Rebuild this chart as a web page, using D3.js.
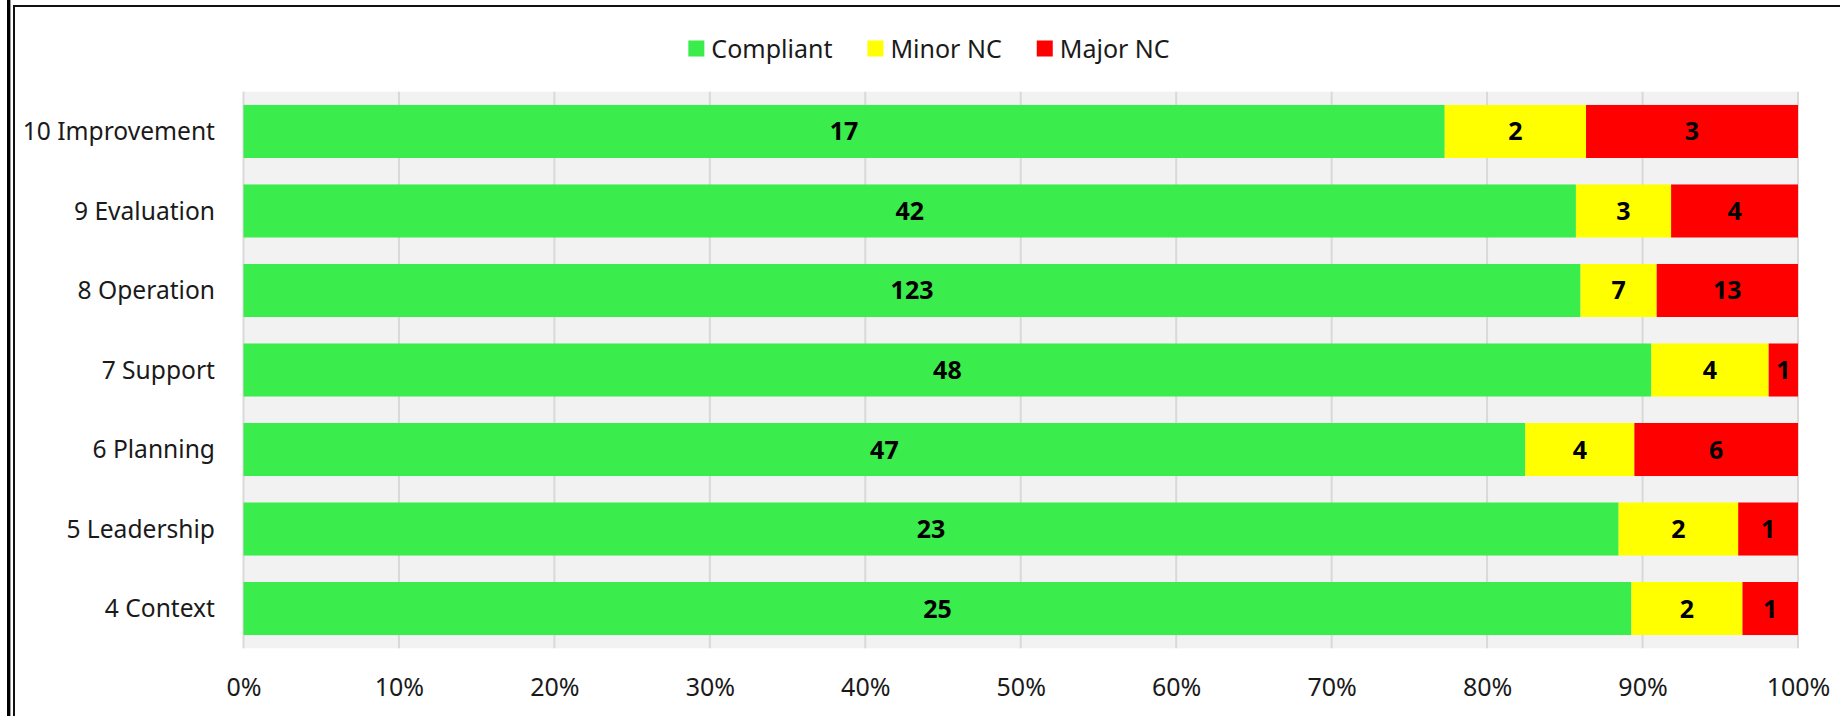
<!DOCTYPE html>
<html>
<head>
<meta charset="utf-8">
<script src="https://cdn.jsdelivr.net/npm/d3@7"></script>
<style>
  html, body { margin: 0; padding: 0; background: #fff; }
  svg { display: block; }
  text { font-family: "Noto Sans", "Open Sans", sans-serif; }
</style>
</head>
<body>
<svg id="chart" width="1840" height="716"></svg>
<script>
const categories = ["10 Improvement", "9 Evaluation", "8 Operation", "7 Support", "6 Planning", "5 Leadership", "4 Context"];
const seriesNames = ["Compliant", "Minor NC", "Major NC"];
const compliant = [17, 42, 123, 48, 47, 23, 25];
const minorNC  = [2, 3, 7, 4, 4, 2, 2];
const majorNC  = [3, 4, 13, 1, 6, 1, 1];
const tickValues = [0, 0.1, 0.2, 0.3, 0.4, 0.5, 0.6, 0.7, 0.8, 0.9, 1.0];
const colors = ["#3aec4c", "#ffff00", "#ff0000"];

const W = 1840, H = 716;
const svg = d3.select("#chart");

// borders
svg.append("rect").attr("x", 7).attr("y", 0).attr("width", 3.4).attr("height", H).attr("fill", "#000");
svg.append("line").attr("x1", 14).attr("x2", 14).attr("y1", 5).attr("y2", H).attr("stroke", "#111").attr("stroke-width", 2);
svg.append("line").attr("x1", 13).attr("x2", W).attr("y1", 6).attr("y2", 6).attr("stroke", "#111").attr("stroke-width", 2);

const plot = { left: 243.5, right: 1798, top: 91.7, bottom: 648.3 };

const x = d3.scaleLinear().domain([0, 1]).range([plot.left, plot.right]);
const y = d3.scaleBand().domain(categories).range([plot.top, plot.bottom]).paddingInner(0.333).paddingOuter(0.1667);

// background
svg.append("rect").attr("x", plot.left).attr("y", plot.top)
  .attr("width", plot.right - plot.left).attr("height", plot.bottom - plot.top).attr("fill", "#f2f2f2");

// gridlines
svg.append("g").selectAll("line").data(tickValues).join("line")
  .attr("x1", d => x(d)).attr("x2", d => x(d))
  .attr("y1", plot.top).attr("y2", plot.bottom)
  .attr("stroke", "#d9d9d9").attr("stroke-width", 2);

// stack data
const rows = categories.map((c, i) => {
  const vals = [compliant[i], minorNC[i], majorNC[i]];
  const total = d3.sum(vals);
  return { cat: c, vals, total };
});

const segs = [];
rows.forEach(r => {
  let acc = 0;
  r.vals.forEach((v, k) => {
    segs.push({ cat: r.cat, k, v, x0: acc / r.total, x1: (acc + v) / r.total });
    acc += v;
  });
});

svg.append("g").selectAll("rect").data(segs).join("rect")
  .attr("x", d => x(d.x0)).attr("width", d => x(d.x1) - x(d.x0))
  .attr("y", d => y(d.cat)).attr("height", y.bandwidth())
  .attr("fill", d => colors[d.k]);

svg.append("g").selectAll("text").data(segs).join("text")
  .attr("x", d => (x(d.x0) + x(d.x1)) / 2)
  .attr("y", d => y(d.cat) + y.bandwidth() / 2)
  .attr("dy", "0.36em")
  .attr("text-anchor", "middle")
  .attr("font-size", 25).attr("font-weight", "bold").attr("fill", "#000")
  .text(d => d.v);

// category axis labels
svg.append("g").selectAll("text").data(categories).join("text")
  .attr("x", 215).attr("y", d => y(d) + y.bandwidth() / 2)
  .attr("dy", "0.36em").attr("text-anchor", "end")
  .attr("font-size", 24.6).attr("fill", "#1a1a1a")
  .text(d => d);

// x axis tick labels
const xAxis = d3.axisBottom(x).tickValues(tickValues).tickFormat(d3.format(".0%")).tickSize(0).tickPadding(0);
const gx = svg.append("g").attr("transform", `translate(0, 696)`).call(xAxis);
gx.select(".domain").remove();
gx.selectAll("text").attr("font-size", 25).attr("fill", "#1a1a1a")
  .attr("font-family", "'Noto Sans', 'Open Sans', sans-serif").attr("dy", 0).attr("y", 0);

// legend
const legend = svg.append("g");
const items = legend.selectAll("g").data(seriesNames).join("g");
items.append("rect").attr("width", 16).attr("height", 16).attr("y", 40.5).attr("fill", (d, i) => colors[i]);
items.append("text").attr("x", 23).attr("y", 57.5).attr("font-size", 25).attr("fill", "#1a1a1a").text(d => d);
const widths = [];
items.each(function () {
  const w = 23 + d3.select(this).select("text").node().getComputedTextLength();
  widths.push(w);
});
const gap = 35;
const totalW = d3.sum(widths) + gap * (widths.length - 1);
let start = 929 - totalW / 2;
items.attr("transform", (d, i) => {
  const t = `translate(${start},0)`;
  start += widths[i] + gap;
  return t;
});
</script>
</body>
</html>
